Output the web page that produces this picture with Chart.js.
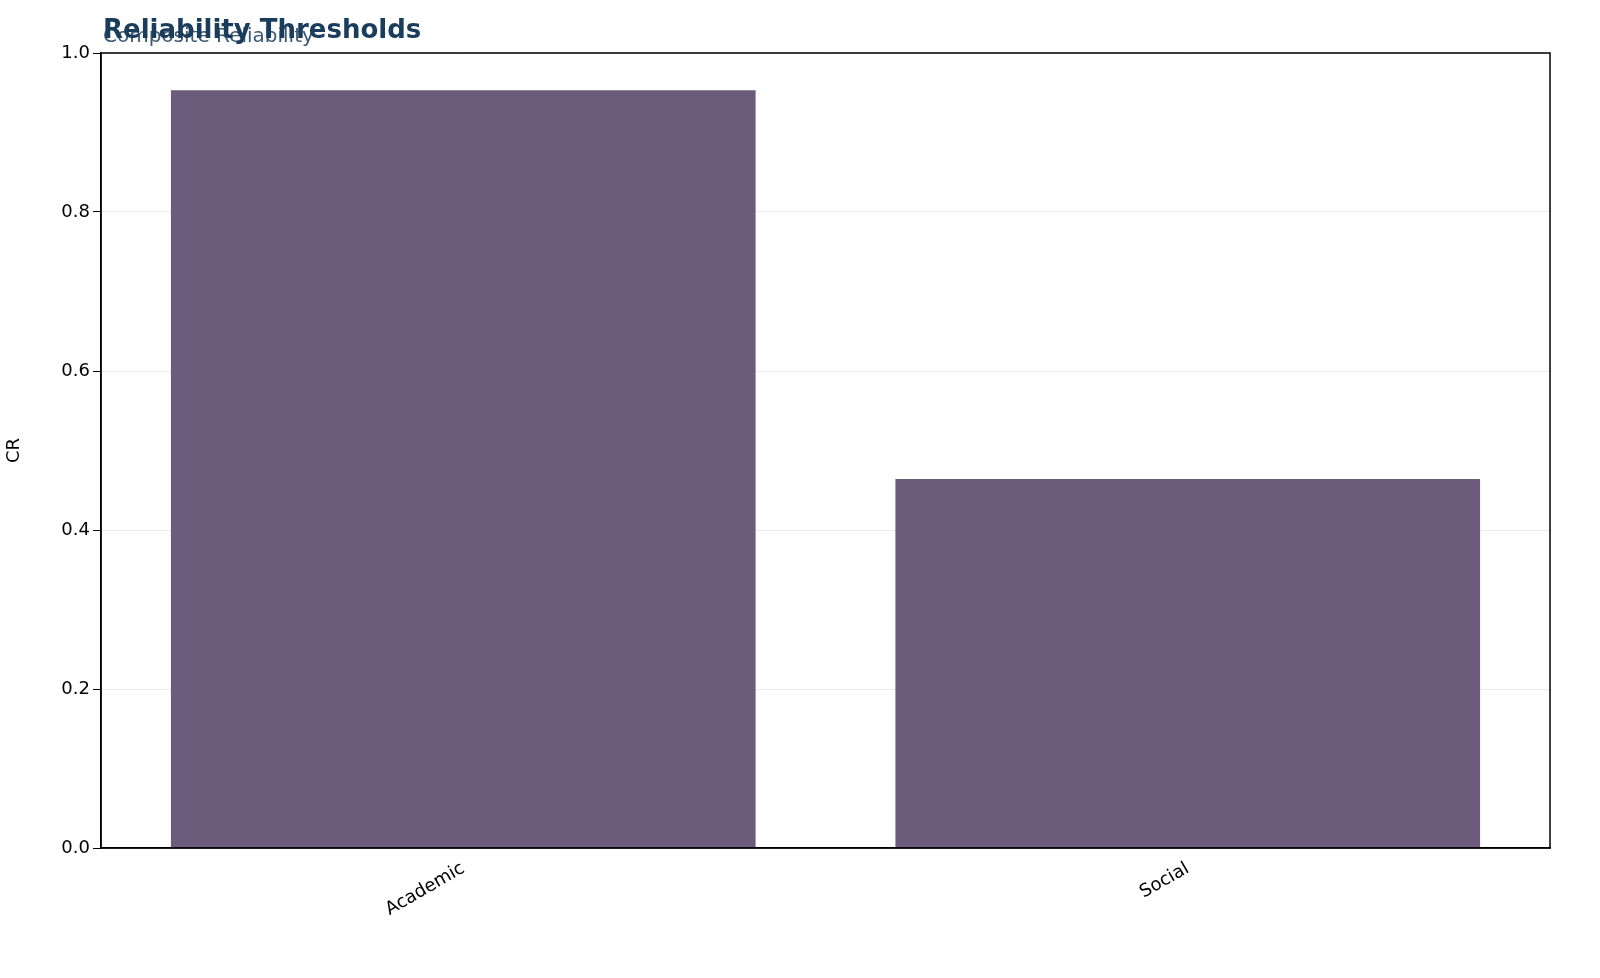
<!DOCTYPE html>
<html><head><meta charset="utf-8">
<script src="https://cdn.jsdelivr.net/npm/chart.js@4"></script>
<style>html,body{margin:0;padding:0;background:#fff}#w{width:1600px;height:978px}</style>
</head><body><div id="w"><canvas id="c"></canvas></div>
<script>
const categories = ["Academic", "Social"];
const crValues = [0.953, 0.464];
const yTicks = [0, 0.2, 0.4, 0.6, 0.8, 1.0];
const titleText = "Reliability Thresholds";
const subtitleText = "Composite Reliability";

const frame = {
  id: 'frame',
  afterDraw(ch) {
    const {ctx, chartArea: a} = ch;
    ctx.save();
    ctx.strokeStyle = '#000'; ctx.lineWidth = 1.5;
    ctx.strokeRect(a.left, a.top, a.right - a.left, a.bottom - a.top);
    ctx.textBaseline = 'alphabetic';
    ctx.fillStyle = '#3d5a73';
    ctx.font = '20px "DejaVu Sans"';
    ctx.fillText(subtitleText, 103, 42);
    ctx.fillStyle = '#1b3d5c';
    ctx.font = 'bold 26px "DejaVu Sans"';
    ctx.fillText(titleText, 103, 38);
    ctx.restore();
  }
};

new Chart(document.getElementById('c'), {
  type: 'bar',
  data: { labels: categories, datasets: [{ data: crValues, backgroundColor: '#6c5b7b', barPercentage: 0.807, categoryPercentage: 1 }] },
  options: {
    responsive: true, maintainAspectRatio: false, animation: false,
    layout: { padding: { top: 53, right: 50, left: 0, bottom: 0 } },
    plugins: { legend: { display: false }, tooltip: { enabled: false } },
    scales: {
      x: {
        grid: { display: false, drawTicks: true, tickLength: 8, color: '#000' },
        border: { color: '#000', width: 1.5 },
        ticks: { color: '#000', font: { family: 'DejaVu Sans', size: 18 }, maxRotation: 30, minRotation: 30, padding: 2 },
        afterFit(s) { s.height = 130; }
      },
      y: {
        min: 0, max: 1,
        afterBuildTicks(s) { s.ticks = yTicks.map(v => ({ value: v })); },
        grid: { color: 'rgba(0,0,0,0.08)', tickColor: '#000', tickLength: 8 },
        border: { color: '#000', width: 1.5 },
        ticks: { color: '#000', font: { family: 'DejaVu Sans', size: 18 }, callback: v => v.toFixed(1) },
        title: { display: true, text: 'CR', color: '#000', font: { family: 'DejaVu Sans', size: 18 } },
        afterFit(s) { s.width = 101; }
      }
    }
  },
  plugins: [frame]
});
</script></body></html>
